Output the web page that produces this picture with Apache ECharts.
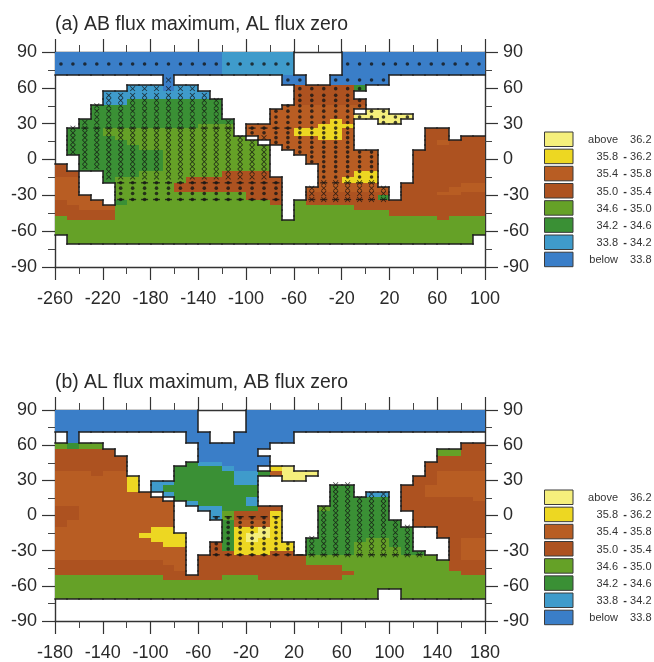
<!DOCTYPE html>
<html>
<head>
<meta charset="utf-8">
<style>html,body{margin:0;padding:0;background:#fff}#c{width:654px;height:662px}</style>
<script src="https://cdn.jsdelivr.net/npm/echarts@6/dist/echarts.min.js"></script>
</head>
<body>
<div id="c"></div>
<script>
// Salinity classes: a above 36.2, y 35.8-36.2, o 35.4-35.8, b 35.0-35.4, g 34.6-35.0, d 34.2-34.6, c 33.8-34.2, B below 33.8, '.' land
const levelCodes = ['a','y','o','b','g','d','c','B'];
const levelColors = ['#F5EF7C','#EDD722','#B85D23','#AD5220','#65A127','#3A9035','#3F9BCB','#3A7EC8'];
const legendLow = ['above','35.8','35.4','35.0','34.6','34.2','33.8','below'];
const legendHigh = ['36.2','36.2','35.8','35.4','35.0','34.6','34.2','33.8'];

const latEdges = [90,71,62,57,50.5,46,42,38,33.5,29.5,26.3,20,16,12.5,8,3.5,-3.5,-10,-14.7,-19.5,-23,-27,-30,-34,-38,-42.5,-47,-51,-55,-63,-71];
const markerLats = [80,66.5,59.3,53.7,49.5,45,40.5,35.6,31,26.3,22.3,18.3,14.3,10.2,6.2,2.2,-1.9,-6,-10,-14.6,-19.5,-24,-28.5,-33.5];

const lonTicksA = [-260,-220,-180,-140,-100,-60,-20,20,60,100];
const lonMinorA = [-240,-200,-160,-120,-80,-40,0,40,80];
const lonTicksB = [-180,-140,-100,-60,-20,20,60,100,140,180];
const lonMinorB = [-160,-120,-80,-40,0,40,80,120,160];
const latTicks = [-90,-60,-30,0,30,60,90];
const latMinor = [-75,-45,-15,15,45,75];

const rowsA = [
"BBBBBBBBBBBBBBcccccc....BBBBBBBBBBBB",
".........B.........BB..BBBBB........",
"......cccBcc........bbbbbd..........",
"....ccccccccc.......bbbbb...........",
"....ccdddddddd......bbbbbb..........",
"...ddddddddddd.....ooooooo..........",
"...ddddddddddd....ooooooo.aa........",
"...ddddddddddd....oooooooaaaaa......",
"..ddddddddddddd...oooooyo..aa.......",
"..ddddddddddggg.ooooooyyy...........",
".dddggggggggggg.ooooyyyyo......bb...",
".ddddggggggggggg.oooooyyo......bb.bb",
".dddddggggggggggg.ooooooo......bobbb",
".ddddddggggggggggg.oooooo......bbbbb",
".ddddddddggggggggg..ooooooo...bbbbbb",
"..dddddddggggggggg...oooooo...bbbbbb",
"b.dddddddggggggggg....ooooo...bbbbbb",
"bb..dddgggggggbbbb....oooyy...bbbbbb",
"oo..dggggggbbbbbbbb...ooyyy...bbbbbb",
"oo...gggggbbbbbbbbb...ooooo..bbbbboo",
"oo...gggggbbbbbbbbb..ooooooo.bbbbooo",
"oo...gggggggggggbbb..bbbbbbb.bbboobb",
"ooo..gggggggggggbbb..bbbbbbd.bbbbbbb",
"booo.dggggggggggggb.gbbbbbbbbbbbbbbb",
"bbooogggggggggggggg.gggggbbbbbbbbbbb",
"bbbbbgggggggggggggg.ggggggggbbbbbbbb",
"gbbbbgggggggggggggg.ggggggggggggbggg",
"gggggggggggggggggggggggggggggggggggg",
"gggggggggggggggggggggggggggggggggggg",
".gggggggggggggggggggggggggggggggggg."
];

const rowsB = [
"BBBBBBBBBBBB....BBBBBBBBBBBBBBBBBBBB",
".B.........BB..BBBBB................",
"gdgg........BBBBBB................bb",
"bbbbb.......BBBBB...............ggbb",
"bbbbbb......BBBBBB..............bbbb",
"bbbbbb.....dccBBBB.............bbbbb",
"bbbbbb....ddddcBB.ya...........bbbbb",
"ooobo"+"o....dddddccdoaaa.........boooo",
"ooooooy...dddddcc..aa.........bboooo",
"ooooooy.ccdddddcc.............bboooo",
"ooooooy.cdddddddd......dd....bbooooo",
"oooooooo.cddddddd......dd.cc.bbooooo",
"ooooooooo.ddddddc......ddddd.bbbbbbo",
"oooooooooo.cddddc......ddddd.bbbbbbb",
"bboooooooo..ccdddbb...gddddd.bbbbbbb",
"bboooooooo...cgbbby...dddddd..bbbbbb",
"booooooooo....doooy...ddddddd.bbbbbb",
"ooooooooyy....dyyay...dddddddd..bbbb",
"oooooooyyyy...dyaay...dddddddd..bbbb",
"ooooooooyyy...dyayy..dddddggdd...boo",
"oooooooooyy..bdyyyyy.ddddgggdd...boo",
"ooooooooooo..bdyyyyy.ddddggggd...boo",
"ooooooooooo..bbyyybb.ddddggggdd..boo",
"ooooooooooo.bbbbbbbbbggggggggggg.boo",
"bbbbbbbbboo.bbbbbbbbbggggggggggggbbb",
"bbbbbbbbbbo.bbbbbbbbbbbbgggggggggbbb",
"bbbbbbbbbbb.bbbbbbbbbbbbbgggggggggbb",
"gggggggggbbbbbgggbbbbbbbgggggggggggg",
"gggggggggggggggggggggggggggggggggggg",
"ggggggggggggggggggggggggggg..ggggggg"
];

// Significance stippling: [first column, last column, north limit, south limit]
const dotZonesA = [[0,35,85,75],[19,27,70,63],[18,29,62,-19],[16,17,30,20],[5,18,-19.5,-34]];
const crossZonesA = [[9,9,70,63],[1,1,62,3.5],[2,15,62,-19],[16,17,20,-19],[21,27,-19.5,-34]];
const dashRowsA = [[2,14,26.3],[16,19,26.3],[5,18,-19.5],[22,26,-19.5],[5,18,-33.5],[21,27,-33.5]];
const dotZonesB = [[13,19,0,-34]];
const crossZonesB = [[21,27,27,-34],[28,28,-3.5,-34],[29,29,-10,-34],[30,30,-30,-34]];
const dashRowsB = [[13,18,-1],[13,30,-33.5]];

const FONT = '"Liberation Sans", Arial, Helvetica, sans-serif';
const INK = '#2a2a2a';

function rowOfLat(lat){
  for (let r = 0; r < latEdges.length - 1; r++) if (lat <= latEdges[r] && lat > latEdges[r+1]) return r;
  return -1;
}
function isOcean(rows, col, lat){
  const r = rowOfLat(lat);
  return r >= 0 && rows[r][col] !== '.';
}
function cellData(rows, lon0){
  const out = [];
  rows.forEach((row, r) => {
    for (let c = 0; c < 36; c++) {
      const lv = levelCodes.indexOf(row[c]);
      if (lv >= 0) out.push([lon0+10*c, latEdges[r], lon0+10*c+10, latEdges[r+1], lv]);
    }
  });
  return out;
}
function outlineData(rows, lon0){
  const out = [];
  const sea = (r,c) => r >= 0 && r < rows.length && c >= 0 && c < 36 && rows[r][c] !== '.';
  rows.forEach((row, r) => {
    for (let c = 0; c < 36; c++) {
      if (!sea(r,c)) continue;
      const x0 = lon0+10*c, x1 = x0+10, y0 = latEdges[r], y1 = latEdges[r+1];
      if (r > 0 && !sea(r-1,c)) out.push([x0,y0,x1,y0]);
      if (!sea(r+1,c)) out.push([x0,y1,x1,y1]);
      if (c > 0 && !sea(r,c-1)) out.push([x0,y0,x0,y1]);
      if (c < 35 && !sea(r,c+1)) out.push([x1,y0,x1,y1]);
    }
  });
  return out;
}
function zonePoints(zones, rows, lon0){
  const out = [];
  zones.forEach(z => {
    for (let c = z[0]; c <= z[1]; c++) markerLats.forEach(lat => {
      if (lat <= z[2] && lat >= z[3] && isOcean(rows, c, lat)) out.push([lon0+10*c+5, lat]);
    });
  });
  return out;
}
function dashPoints(list, lon0){
  const out = [];
  list.forEach(d => { for (let c = d[0]; c <= d[1]; c++) out.push([lon0+10*c+5, d[2]]); });
  return out;
}

const renderCell = (params, api) => {
  const a = api.coord([api.value(0), api.value(1)]);
  const b = api.coord([api.value(2), api.value(3)]);
  const x = Math.round(a[0]), y = Math.round(a[1]);
  return {type:'rect', shape:{x:x, y:y, width:Math.round(b[0])-x, height:Math.round(b[1])-y},
          style:{fill:levelColors[api.value(4)]}};
};
const renderEdge = (params, api) => {
  const a = api.coord([api.value(0), api.value(1)]);
  const b = api.coord([api.value(2), api.value(3)]);
  return {type:'line', shape:{x1:Math.round(a[0]), y1:Math.round(a[1]), x2:Math.round(b[0]), y2:Math.round(b[1])},
          style:{stroke:'#1f1f1f', lineWidth:1.5, lineCap:'square'}};
};

const LINE = {show:true, onZero:false, lineStyle:{color:'#333', width:1.4}};
function axisPair(kind, grid, min, max, major, minor, sides, margin){
  const base = {gridIndex:grid, type:'value', min:min, max:max, splitLine:{show:false}, scale:false};
  const res = [];
  sides.forEach((side, i) => {
    res.push(Object.assign({}, base, {position:side, axisLine:LINE,
      axisTick:{show:true, length:13, inside:false, customValues:major, lineStyle:{color:'#333', width:1.2}},
      axisLabel: (kind === 'y' || i === 0)
        ? {show:true, customValues:major, margin:margin, fontSize:18, fontFamily:FONT, color:INK, hideOverlap:false, padding: kind === 'y' ? [3,0,0,0] : 0}
        : {show:false}}));
    res.push(Object.assign({}, base, {position:side, axisLine:{show:false, onZero:false},
      axisTick:{show:true, length:7, inside:false, customValues:minor, lineStyle:{color:'#444', width:1}},
      axisLabel:{show:false}}));
  });
  return res;
}

const xAxes = [
  ...axisPair('x',0,-260,100,lonTicksA,lonMinorA,['bottom','top'],23),
  ...axisPair('x',1,-180,180,lonTicksB,lonMinorB,['bottom','top'],23)
];
const yAxes = [
  ...axisPair('y',0,-90,90,latTicks,latMinor,['left','right'],18),
  ...axisPair('y',1,-90,90,latTicks,latMinor,['left','right'],18)
];

function panelSeries(rows, lon0, axisIdx, dots, crosses, dashes){
  const ax = {xAxisIndex:axisIdx, yAxisIndex:axisIdx};
  return [
    Object.assign({type:'custom', renderItem:renderCell, data:cellData(rows,lon0), encode:{x:[0,2],y:[1,3]}, z:2, silent:true}, ax),
    Object.assign({type:'custom', renderItem:renderEdge, data:outlineData(rows,lon0), encode:{x:[0,2],y:[1,3]}, z:3, silent:true}, ax),
    Object.assign({type:'scatter', data:zonePoints(dots,rows,lon0), symbol:'circle', symbolSize:3.6, itemStyle:{color:'#151515'}, z:4, silent:true}, ax),
    Object.assign({type:'scatter', data:zonePoints(crosses,rows,lon0), symbol:'path://M0 1L1 0 5 4 9 0 10 1 6 5 10 9 9 10 5 6 1 10 0 9 4 5Z', symbolSize:5.4, itemStyle:{color:'#111'}, z:4, silent:true}, ax),
    Object.assign({type:'scatter', data:dashPoints(dashes,lon0), symbol:'rect', symbolSize:[7,1.4], itemStyle:{color:'#151515'}, z:4, silent:true}, ax)
  ];
}

function legendGraphics(top){
  const g = [];
  legendLow.forEach((low, i) => {
    const y = top + i*17.17;
    g.push({type:'rect', shape:{x:544.5, y:y, width:28.5, height:14.5},
      style:{fill:levelColors[i], stroke:'#3a3a3a', lineWidth:1}});
    const ty = y + 8;
    const st = {fontSize:11, fontFamily:FONT, fill:'#333', verticalAlign:'middle'};
    g.push({type:'text', style:Object.assign({text:low, x:618, y:ty, align:'right'}, st)});
    if (i > 0 && i < 7) g.push({type:'text', style:Object.assign({text:'-', x:625, y:ty, align:'center'}, st, {fontWeight:'bold'})});
    g.push({type:'text', style:Object.assign({text:legendHigh[i], x:651.5, y:ty, align:'right'}, st)});
  });
  return g;
}

const chart = echarts.init(document.getElementById('c'), null, {renderer:'canvas'});
chart.setOption({
  animation:false,
  backgroundColor:'#fff',
  title:[
    {text:'(a) AB flux maximum, AL flux zero', left:50, top:10, textStyle:{fontFamily:FONT, fontSize:19.4, fontWeight:'normal', color:INK}},
    {text:'(b) AL flux maximum, AB flux zero', left:50, top:368, textStyle:{fontFamily:FONT, fontSize:19.4, fontWeight:'normal', color:INK}}
  ],
  grid:[
    {left:55, top:52, width:430, height:215, containLabel:false},
    {left:55, top:410, width:430, height:215, containLabel:false}
  ],
  xAxis:xAxes,
  yAxis:yAxes,
  series:[
    ...panelSeries(rowsA,-260,0,dotZonesA,crossZonesA,dashRowsA),
    ...panelSeries(rowsB,-180,4,dotZonesB,crossZonesB,dashRowsB)
  ],
  graphic:[...legendGraphics(132),...legendGraphics(490)]
});
</script>
</body>
</html>
